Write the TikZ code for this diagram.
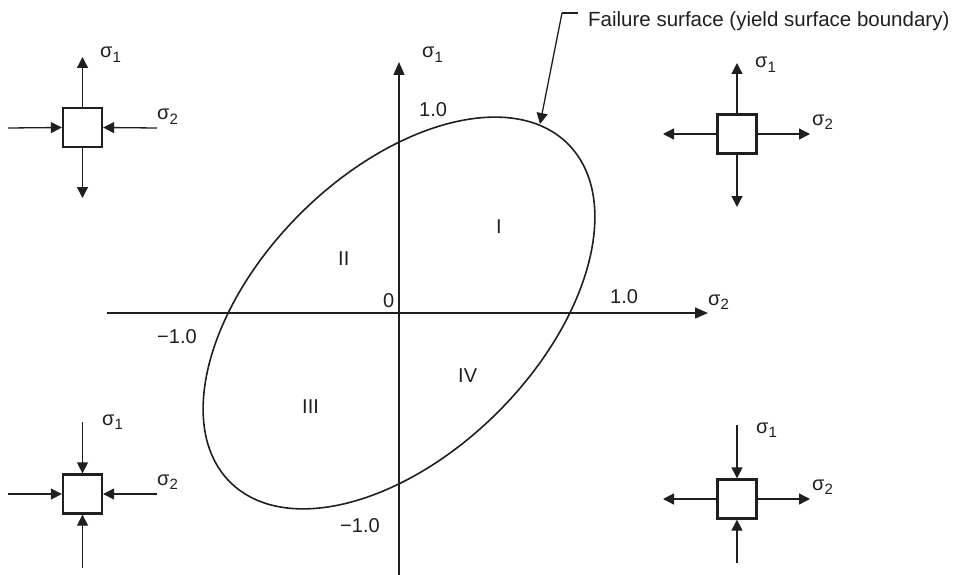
\documentclass[tikz,border=0pt]{standalone}
\usepackage{fontspec}
\setmainfont{Liberation Sans}
\usetikzlibrary{arrows.meta}
\newcommand{\sgm}[1]{σ\raisebox{-0.4ex}{\fontsize{15}{17}\selectfont #1}}
\tikzset{
  lbl/.style={anchor=base west, inner sep=0pt, text=black!88, font=\fontsize{20}{24}\selectfont},
  elem/.style={draw=black!88, line width=2.3pt, minimum size=39pt, inner sep=0pt},
  force/.style={draw=black!88, line width=1.3pt, -{Triangle[length=11pt,width=11pt]}},
  axis/.style={draw=black!88, line width=1.5pt, -{Triangle[length=13pt,width=11pt]}},
  curve/.style={draw=black!88, line width=1.6pt},
}
\begin{document}
\begin{tikzpicture}[x=1pt,y=-1pt]
\useasboundingbox (0,0) rectangle (958,575);
% axes
\coordinate (O) at (399,313);
\coordinate (xs) at (107,313);
\coordinate (xe) at (708,313);
\coordinate (ys) at (399,575);
\coordinate (ye) at (399,62);
\draw[axis] (xs) -- (xe);
\draw[axis] (ys) -- (ye);
% failure ellipse
\draw[curve, rotate around={45:(O)}] (O) ellipse [x radius=239pt, y radius=140pt];
% axis labels
\node[lbl] (s1ax) at (422,58) {\sgm{1}};
\node[lbl] (s2ax) at (708,305) {\sgm{2}};
\node[lbl] (p1y) at (419,117) {1.0};
\node[lbl] (p1x) at (610,303) {1.0};
\node[lbl] (zero) at (383,307) {0};
\node[lbl] (m1x) at (157,343) {−1.0};
\node[lbl] (m1y) at (340,532) {−1.0};
% quadrant labels
\node[lbl] (qI) at (496,233) {I};
\node[lbl] (qII) at (338,265) {II};
\node[lbl] (qIII) at (302,413) {III};
\node[lbl] (qIV) at (458,382) {IV};
% failure surface label
\node[lbl, font=\fontsize{20.5}{24}\selectfont] (fs) at (588,27) {Failure surface (yield surface boundary)};
\coordinate (fa) at (578,13);
\coordinate (fb) at (562,13);
\coordinate (fc) at (540,124);
\draw[draw=black!88, line width=1.3pt] (fa) -- (fb);
\draw[force] (fb) -- (fc);
% top-left element: sigma1 tension, sigma2 compression
\node[elem] (tl) at (82.5,127.5) {};
\coordinate (tlu) at (82.5,57);
\coordinate (tld) at (82.5,198);
\coordinate (tll) at (8,128);
\coordinate (tlr) at (157,128);
\draw[force] (tl.north) -- (tlu);
\draw[force] (tl.south) -- (tld);
\draw[force] (tll) -- (tl.west);
\draw[force] (tlr) -- (tl.east);
\node[lbl] at (100,58) {\sgm{1}};
\node[lbl] at (157,120) {\sgm{2}};
% top-right element: both tension
\node[elem] (tr) at (737,134) {};
\coordinate (tru) at (737,63);
\coordinate (trd) at (737,207);
\coordinate (trl) at (663,134);
\coordinate (trr) at (810,134);
\draw[force] (tr.north) -- (tru);
\draw[force] (tr.south) -- (trd);
\draw[force] (tr.west) -- (trl);
\draw[force] (tr.east) -- (trr);
\node[lbl] at (755,68) {\sgm{1}};
\node[lbl] at (812,125) {\sgm{2}};
% bottom-left element: both compression
\node[elem] (bl) at (82.5,494) {};
\coordinate (blu) at (82.5,422);
\coordinate (bld) at (82.5,568);
\coordinate (bll) at (8,494);
\coordinate (blr) at (157,494);
\draw[force] (blu) -- (bl.north);
\draw[force] (bld) -- (bl.south);
\draw[force] (bll) -- (bl.west);
\draw[force] (blr) -- (bl.east);
\node[lbl] at (102,425) {\sgm{1}};
\node[lbl] at (157,485) {\sgm{2}};
% bottom-right element: sigma1 compression, sigma2 tension
\node[elem] (br) at (737,499) {};
\coordinate (bru) at (737,425);
\coordinate (brd) at (737,563);
\coordinate (brl) at (663,499);
\coordinate (brr) at (810,499);
\draw[force] (bru) -- (br.north);
\draw[force] (brd) -- (br.south);
\draw[force] (br.west) -- (brl);
\draw[force] (br.east) -- (brr);
\node[lbl] at (756,433) {\sgm{1}};
\node[lbl] at (812,490) {\sgm{2}};
\end{tikzpicture}
\end{document}
